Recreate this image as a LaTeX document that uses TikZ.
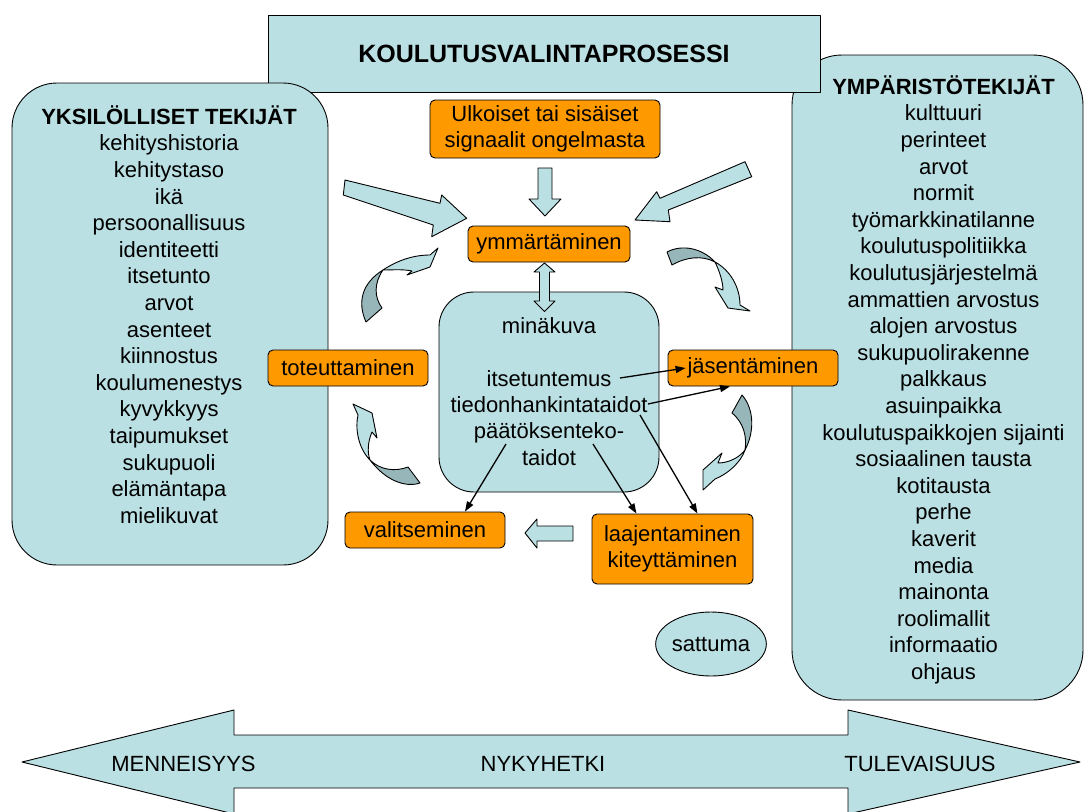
\documentclass[tikz,border=0pt]{standalone}
\usepackage{fontspec}
\setmainfont{Liberation Sans}
\usetikzlibrary{arrows.meta,shapes.geometric}
\definecolor{lblue}{HTML}{BBE0E3}
\definecolor{dblue}{HTML}{97B6B9}
\definecolor{orng}{HTML}{FF9900}
\newcommand\fs{\fontsize{22}{26.6}\selectfont}
\begin{document}
\begin{tikzpicture}[x=1pt,y=-1pt,line join=round,
 lb/.style={fill=lblue,draw=black,line width=0.9pt},
 db/.style={fill=dblue,draw=black,line width=0.9pt},
 ob/.style={fill=orng,draw=black,line width=0.9pt,rounded corners=5pt,inner sep=0pt,align=center,font=\fs},
 txt/.style={font=\fs,align=center,inner sep=0pt},
 conn/.style={line width=1.3pt,-{Triangle[length=10pt,width=7pt]}}]
\useasboundingbox (0,0) rectangle (1084,811);
% right box
\draw[lb,rounded corners=50pt] (792,55) rectangle (1083,700);
\node[txt,anchor=north] (envtext) at (943.5,73) {\rule{0pt}{21pt}\textbf{YMPÄRISTÖTEKIJÄT}\\kulttuuri\\perinteet\\arvot\\normit\\työmarkkinatilanne\\koulutuspolitiikka\\koulutusjärjestelmä\\ammattien arvostus\\alojen arvostus\\sukupuolirakenne\\palkkaus\\asuinpaikka\\koulutuspaikkojen sijainti\\sosiaalinen tausta\\kotitausta\\perhe\\kaverit\\media\\mainonta\\roolimallit\\informaatio\\ohjaus};
\node[lb,ellipse,minimum width=106pt,minimum height=64pt,inner sep=0pt,font=\fs] (sattuma) at (711,644) {sattuma};
% title
\node[lb,minimum width=552pt,minimum height=77pt,inner sep=0pt,font=\fontsize{25}{30}\selectfont\bfseries] (title) at (544,53.5) {KOULUTUSVALINTAPROSESSI};
% left box
\draw[lb,rounded corners=45pt] (12,83) rectangle (328,565);
\node[txt,anchor=north] (indtext) at (169,103) {\rule{0pt}{21pt}\textbf{YKSILÖLLISET TEKIJÄT}\\kehityshistoria\\kehitystaso\\ikä\\persoonallisuus\\identiteetti\\itsetunto\\arvot\\asenteet\\kiinnostus\\koulumenestys\\kyvykkyys\\taipumukset\\sukupuoli\\elämäntapa\\mielikuvat};
% centre box
\draw[lb,rounded corners=35pt] (439,292) rectangle (659,492);
\node[txt,anchor=base] (mina) at (549,333) {minäkuva};
\node[txt,anchor=base] (itse) at (549,386) {itsetuntemus};
\node[txt,anchor=base] (tiedon) at (549,412) {tiedonhankintataidot};
\node[txt,anchor=base] (paatos) at (549,438) {päätöksenteko-};
\node[txt,anchor=base] (taidot) at (549,465) {taidot};
% orange boxes
\node[ob,minimum width=230pt,minimum height=58pt] (sig) at (545,129) {Ulkoiset tai sisäiset\\signaalit ongelmasta};
\node[ob,minimum width=162pt,minimum height=36pt] (ymm) at (549,244) {ymmärtäminen};
\node[ob,minimum width=160pt,minimum height=36pt] (tot) at (348,368) {toteuttaminen};
\node[ob,minimum width=170pt,minimum height=36pt] (jas) at (753,368) {jäsentäminen};
\node[ob,minimum width=160pt,minimum height=36pt] (val) at (425,530) {valitseminen};
\node[ob,minimum width=161pt,minimum height=70pt] (laaj) at (672.5,549) {laajentaminen\\kiteyttäminen};
% block arrows
\draw[lb] (538,168) -- (552,168) -- (552,199) -- (561,199) -- (545,216) -- (529,199) -- (538,199) -- cycle;
\draw[lb] (544.5,263) -- (555,272) -- (549.5,272) -- (549.5,301) -- (555,301) -- (544.5,311.5) -- (534,301) -- (539.5,301) -- (539.5,272) -- (534,272) -- cycle;
\draw[lb] (345,180) -- (440,203.3) -- (441.7,195) -- (466.7,218.3) -- (431.7,236.7) -- (433.3,225) -- (343.3,195) -- cycle;
\draw[lb] (745,161.7) -- (660,198.3) -- (656.7,191.7) -- (635,220) -- (670,221.7) -- (668.3,210) -- (751.7,176.7) -- cycle;
\draw[lb] (525,533) -- (537,519) -- (537,526) -- (573,526) -- (573,541) -- (537,541) -- (537,548) -- cycle;
% curved arrows
\draw[db] (366,322) .. controls (357,302) and (362,283) .. (383,270) .. controls (374,283) and (374,297) .. (382,308) -- cycle;
\draw[lb] (383,270) .. controls (398,260) and (414,255) .. (430,255) -- (438,248) -- (430,267) -- (407,275) -- (412,271) .. controls (403,269) and (392,270) .. (383,270) -- cycle;
\draw[db] (667,252) .. controls (682,244) and (702,248) .. (715,262) .. controls (702,255) and (686,257) .. (672,265) -- cycle;
\draw[lb] (715,262) .. controls (730,270) and (740,287) .. (740,305) -- (750,311) -- (728,308) -- (715,287) -- (723,290) .. controls (723,283) and (720,272) .. (715,262) -- cycle;
\draw[db] (742,395) .. controls (755,410) and (754,433) .. (745,450) .. controls (747,437) and (744,423) .. (732,413) -- cycle;
\draw[lb] (745,450) .. controls (739,458) and (728,463) .. (718,463) -- (722,453) -- (703,470) -- (703,490) -- (715,479) .. controls (728,474) and (741,462) .. (745,450) -- cycle;
\draw[lb] (370,460) .. controls (358,448) and (355,428) .. (358,415) -- (353,404) -- (372,413) -- (377,438) -- (372,432) .. controls (368,441) and (367,452) .. (370,460) -- cycle;
\draw[db] (370,460) .. controls (385,480) and (405,488) .. (420,483) -- (408,467) .. controls (395,472) and (380,470) .. (370,460) -- cycle;
% connectors
\coordinate (s1) at (620,378);
\coordinate (s2) at (648,404);
\coordinate (s3) at (640,415);
\coordinate (s4) at (506,444);
\coordinate (s5) at (593,444);
\draw[conn] (s1) -- ([xshift=18pt]jas.west);
\draw[conn] (s2) -- ([xshift=-23pt]jas.south);
\draw[conn] (s3) -- ([xshift=25pt]laaj.north);
\draw[conn] (s4) -- ([xshift=40pt]val.north);
\draw[conn] (s5) -- ([xshift=-36pt]laaj.north);
% time arrow
\draw[lb] (22,762) -- (234,710) -- (234,735) -- (848,735) -- (848,710) -- (1080,762) -- (848,814) -- (848,788) -- (234,788) -- (234,814) -- cycle;
\node[txt] (past) at (183.5,764) {MENNEISYYS};
\node[txt] (now) at (543,764) {NYKYHETKI};
\node[txt] (future) at (920,764) {TULEVAISUUS};
\end{tikzpicture}
\end{document}
